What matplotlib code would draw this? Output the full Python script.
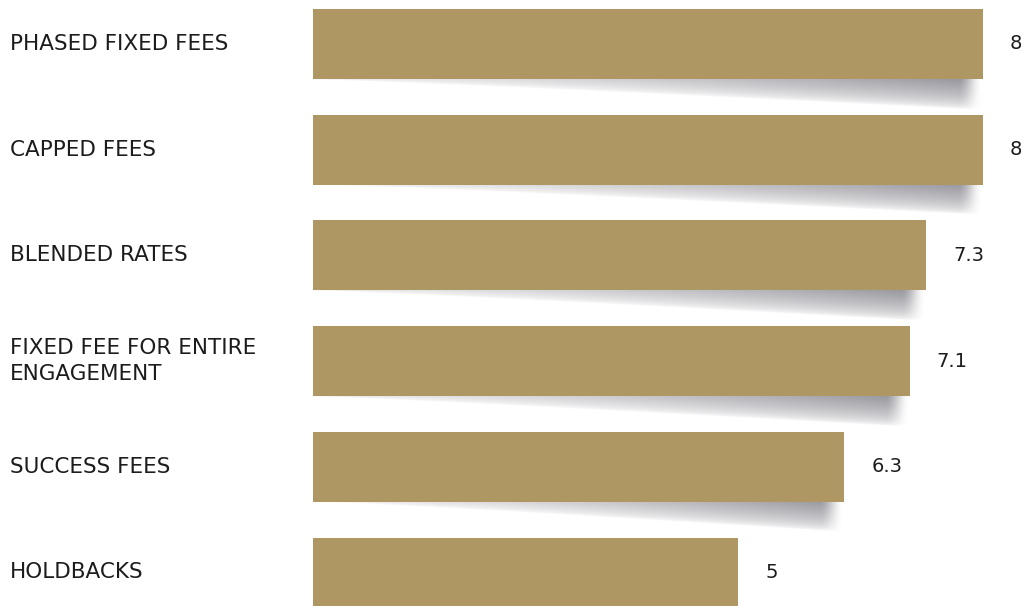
import numpy as np
import matplotlib
matplotlib.use("Agg")
import matplotlib.pyplot as plt

categories = ["PHASED FIXED FEES", "CAPPED FEES", "BLENDED RATES",
              "FIXED FEE FOR ENTIRE\nENGAGEMENT", "SUCCESS FEES", "HOLDBACKS"]
values = [8, 8, 7.3, 7.1, 6.3, 5]
value_labels = ["8", "8", "7.3", "7.1", "6.3", "5"]

BAR_COLOR = "#AF9764"
TEXT_COLOR = "#1c1c1c"
BASE = -0.2          # bars start slightly left of zero
BAR_H = 0.662
SHADOW_MAX = 0.29    # shadow depth under the bar's right end (row units)

plt.rcParams["font.family"] = ["DejaVu Sans"]

fig = plt.figure(figsize=(10.29, 6.06), dpi=100)
ax = fig.add_axes([0, 0, 1, 1])
ax.axis("off")


def curl_shadow(ax, y_bottom, x0, x1):
    """Soft page-curl shadow hanging under the right part of a bar."""
    nx, ny = 600, 100
    xs = np.linspace(x0, x1, nx)
    ys = np.linspace(0, SHADOW_MAX, ny)
    X, Y = np.meshgrid(xs, ys)
    t = (X - x0) / (x1 - x0)
    depth = SHADOW_MAX * np.power(t, 1.1) + 1e-6
    s = Y / depth
    edge = np.clip(1 - s, 0, 1) ** 0.6
    strength = 0.14 + 0.56 * np.power(t, 1.5)
    fade_w = 0.3 / (x1 - x0)
    right = np.clip((1 - t) / fade_w, 0, 1)
    right = right * right * (3 - 2 * right)
    alpha = strength * edge * right
    img = np.zeros((ny, nx, 4))
    img[..., 0] = 0.40
    img[..., 1] = 0.40
    img[..., 2] = 0.44
    img[..., 3] = np.clip(alpha, 0, 1)
    ax.imshow(img, extent=(x0, x1, y_bottom + SHADOW_MAX, y_bottom),
              origin="upper", aspect="auto", interpolation="bilinear", zorder=1)


ypos = np.arange(len(values))
for y, v in zip(ypos, values):
    curl_shadow(ax, y + BAR_H / 2, BASE, v)

ax.barh(ypos, [v - BASE for v in values], left=BASE, height=BAR_H,
        color=BAR_COLOR, zorder=3)

for y, v, lab in zip(ypos, values, value_labels):
    ax.annotate(lab, (v, y), xytext=(19.5, 0), textcoords="offset points",
                ha="left", va="center", fontsize=14, color=TEXT_COLOR, zorder=4)

for y, cat in zip(ypos, categories):
    ax.text(10 / 1029, y, cat, transform=ax.get_yaxis_transform(),
            ha="left", va="center", fontsize=15.5, color=TEXT_COLOR,
            linespacing=1.35, zorder=4)

ax.set_xlim(-4.037, 8.563)
ax.set_ylim(5.317, -0.416)
fig.savefig("out.png", dpi=100)
